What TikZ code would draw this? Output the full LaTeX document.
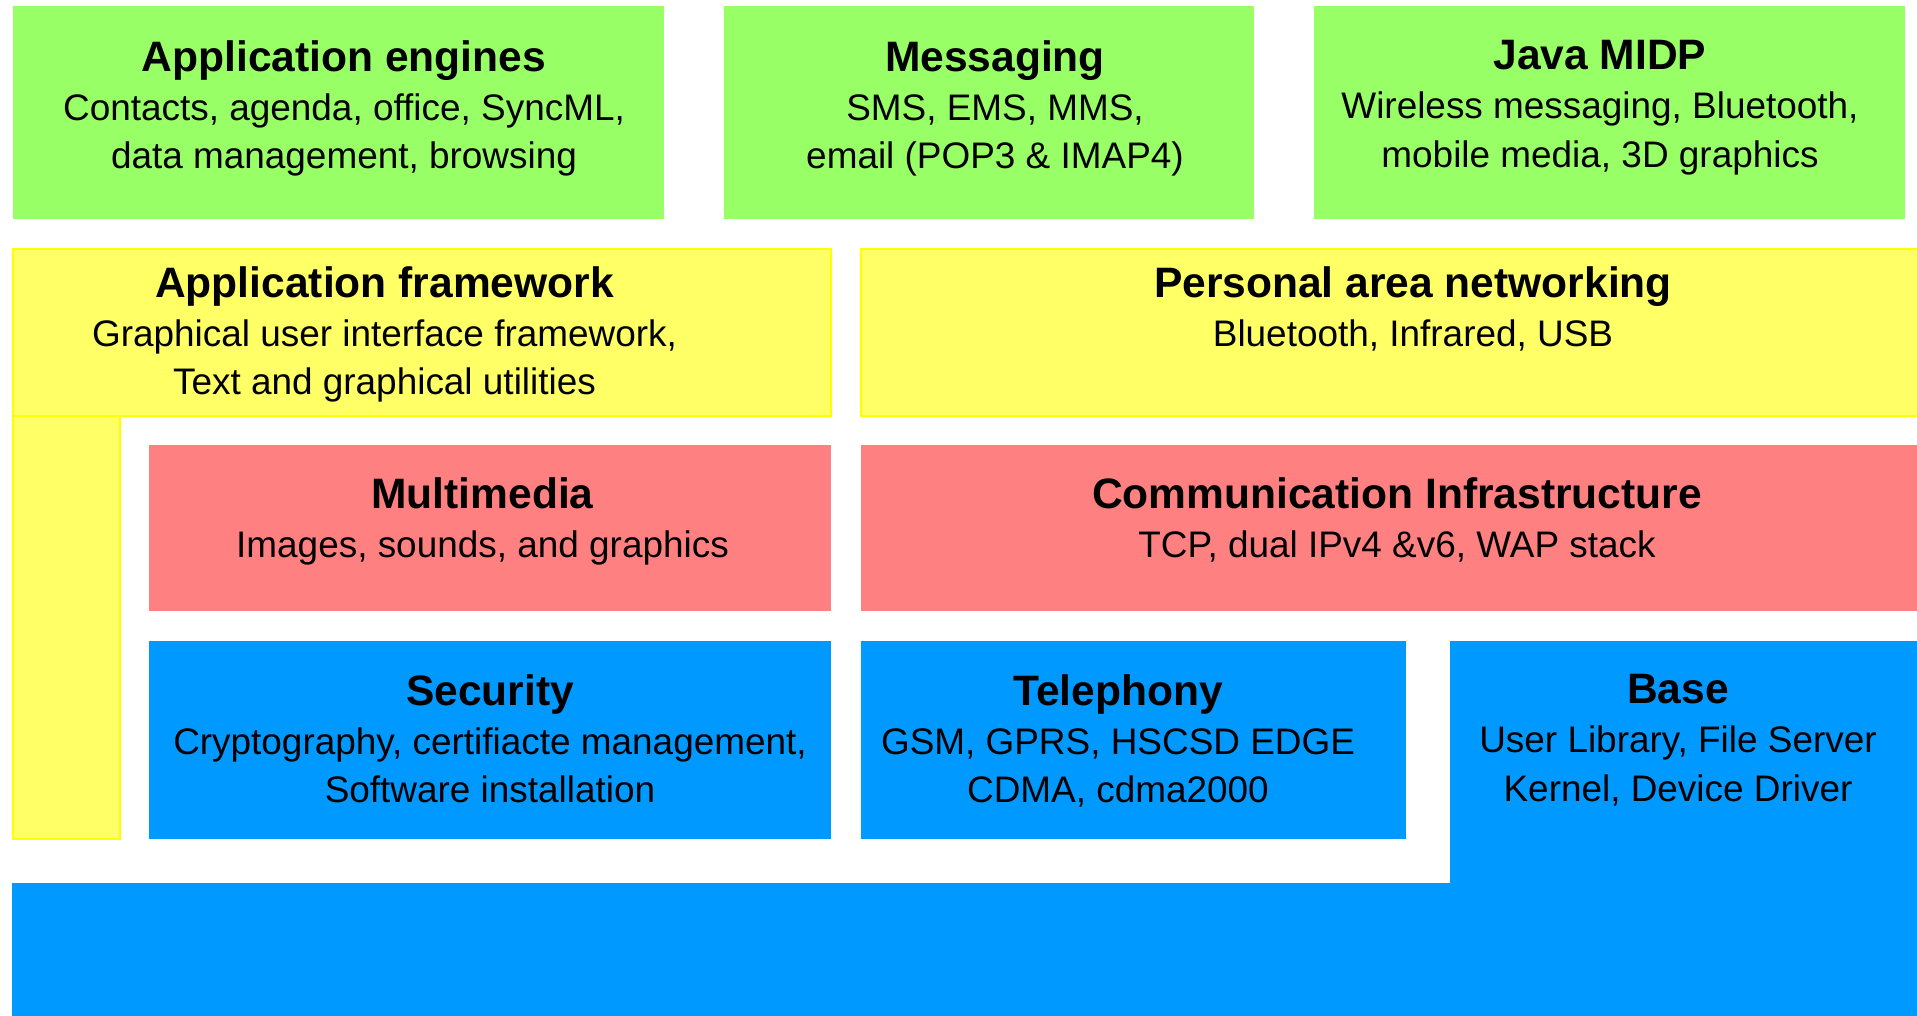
\documentclass[tikz,border=0pt]{standalone}
\usepackage{fontspec}
\setmainfont{Liberation Sans}
\definecolor{enginegreen}{RGB}{153,255,102}
\definecolor{frameyellow}{RGB}{255,255,102}
\definecolor{edgeyellow}{RGB}{255,255,0}
\definecolor{infrared}{RGB}{255,128,128}
\definecolor{baseblue}{RGB}{0,153,255}
\newcommand{\layertitle}[1]{{\fontsize{12.1pt}{13.8pt}\selectfont\bfseries #1}}
\tikzset{
	greenbox/.style = {rectangle, fill = enginegreen, minimum height = 2.13cm},
	yellowbox/.style = {rectangle, fill = frameyellow, draw = edgeyellow, line width = 0.6pt},
	redbox/.style = {rectangle, fill = infrared, minimum height = 1.66cm},
	bluebox/.style = {rectangle, fill = baseblue},
	layertext/.style = {anchor = north, align = center, inner sep = 0pt, font = \fontsize{10.5pt}{13.8pt}\selectfont}
}

\begin{document}
\begin{tikzpicture}[x = 0.01cm, y = -0.01cm]
	\useasboundingbox (0,0) rectangle (1917,1016);
	\clip (0,0) rectangle (1917,1016);
	
	% top row
	\node[greenbox, minimum width = 6.51cm] (engines) at (338.5,112.5) {};
	\node[greenbox, minimum width = 5.30cm] (messaging) at (989,112.5) {};
	\node[greenbox, minimum width = 5.91cm] (midp) at (1609.5,112.5) {};
	
	\node[layertext] (enginestxt) at (344,40) {\layertitle{Application engines}\\Contacts, agenda, office, SyncML,\\data management, browsing};
	\node[layertext] (messagingtxt) at (995,40) {\layertitle{Messaging}\\SMS, EMS, MMS,\\email (POP3 \& IMAP4)};
	\node[layertext] (midptxt) at (1600,40) {\layertitle{Java MIDP}\\Wireless messaging, Bluetooth,\\mobile media, 3D graphics};
	
	% framework row
	\node[yellowbox, minimum width = 8.18cm, minimum height = 1.67cm] (appfw) at (422,332.5) {};
	\node[yellowbox, minimum width = 11.04cm, minimum height = 1.67cm] (pan) at (1413,332.5) {};
	\node[yellowbox, minimum width = 1.07cm, minimum height = 4.23cm] (appfwbar) at (66.5,627.5) {};
	
	\node[layertext] (appfwtxt) at (384.5,266) {\layertitle{Application framework}\\Graphical user interface framework,\\Text and graphical utilities};
	\node[layertext] (pantxt) at (1413,266) {\layertitle{Personal area networking}\\Bluetooth, Infrared, USB};
	
	% middleware row
	\node[redbox, minimum width = 6.82cm] (multimedia) at (490,528) {};
	\node[redbox, minimum width = 10.72cm] (comms) at (1397,528) {};
	
	\node[layertext] (multimediatxt) at (482.5,477) {\layertitle{Multimedia}\\Images, sounds, and graphics};
	\node[layertext] (commstxt) at (1397,477) {\layertitle{Communication Infrastructure}\\TCP, dual IPv4 \&v6, WAP stack};
	
	% base row
	\node[bluebox, minimum width = 6.82cm, minimum height = 1.98cm] (security) at (490,740) {};
	\node[bluebox, minimum width = 5.45cm, minimum height = 1.98cm] (telephony) at (1133.5,740) {};
	\node[bluebox, minimum width = 4.80cm, minimum height = 2.59cm] (base) at (1690,770.5) {};
	\node[bluebox, minimum width = 19.17cm, minimum height = 1.47cm] (kernelbar) at (971.5,956.5) {};
	
	\node[layertext] (securitytxt) at (490,674) {\layertitle{Security}\\Cryptography, certifiacte management,\\Software installation};
	\node[layertext] (telephonytxt) at (1118,674) {\layertitle{Telephony}\\GSM, GPRS, HSCSD EDGE\\CDMA, cdma2000};
	\node[layertext] (basetxt) at (1678,674) {\layertitle{Base}\\User Library, File Server\\Kernel, Device Driver};
	
\end{tikzpicture}
\end{document}
